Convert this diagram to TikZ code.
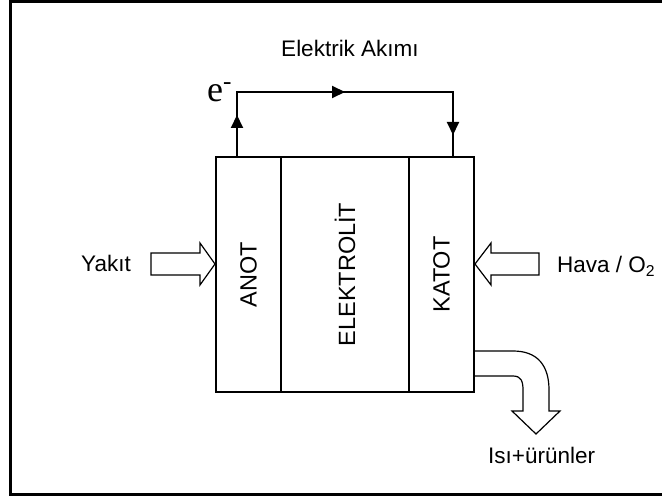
\documentclass[tikz,border=0pt]{standalone}
\usepackage{fontspec}
\setmainfont{Liberation Sans}
\newfontfamily\serifrm{Liberation Serif}
\usetikzlibrary{arrows.meta,decorations.markings}
\tikzset{cell/.style={draw,line width=2pt,minimum height=235pt,inner sep=0pt,
   font=\fontsize{23.5}{26}\selectfont},
 wire/.style={line width=2pt},
 fatarrow/.style={draw,line width=1.2pt,line join=miter},
 lbl/.style={font=\fontsize{22.5}{25}\selectfont,inner sep=0pt}}
\pgfkeys{/pgf/decoration/wiretip/.style={mark=at position #1 with {\arrow{Triangle[length=13pt,width=12pt]}}}}

\begin{document}
\begin{tikzpicture}[x=1pt,y=-1pt]
\useasboundingbox (0,0) rectangle (662,497);
\draw[line width=3pt] (10,2) rectangle (664,494);
% hucre
\node[cell,minimum width=65pt] (anot) at (248.5,274.5) {\rotatebox{90}{ANOT}};
\node[cell,minimum width=128pt] (elektrolit) at (345,274.5) {\rotatebox{90}{ELEKTROLİT}};
\node[cell,minimum width=65pt] (katot) at (441.5,274.5) {\rotatebox{90}{KATOT}};
% dis devre
\coordinate (eout) at (237,157);\coordinate (ein) at (453,157);\coordinate (top) at (345,92);
\draw[wire,postaction=decorate,decoration={markings,wiretip=42pt,wiretip=173pt,wiretip=324pt}]
 (eout) |- (top) -| (ein);
\node[anchor=base west,inner sep=0pt,font=\serifrm\fontsize{36}{40}\selectfont] (elec) at (207,102) {e\raisebox{3pt}{\textsuperscript{-}}};
\node[lbl,anchor=base] (akim) at (350,57) {Elektrik Akımı};
% giris/cikis oklari
\draw[fatarrow] (151,253) -- (200,253) -- (200,243) -- (anot.west |- 0,264) -- (200,285) -- (200,275) -- (151,275) -- cycle;
\draw[fatarrow] (539,253) -- (491,253) -- (491,243) -- (katot.east |- 0,264) -- (491,285) -- (491,275) -- (539,275) -- cycle;
\draw[fatarrow] (katot.east |- 0,351) -- (513,351) .. controls (538,351) and (549,366) .. (549,390)
 -- (549,411) -- (560,411) -- (536,434) -- (512,411) -- (523,411) -- (523,390)
 .. controls (523,381) and (521,376) .. (513,376) -- (katot.east |- 0,376);
\node[lbl,anchor=base east] (yakit) at (131,272) {Yakıt};
\node[lbl,anchor=base west] (hava) at (557,273) {Hava / O\textsubscript{2}};
\node[lbl,anchor=base west] (urun) at (488,463) {Isı+ürünler};
\end{tikzpicture}
\end{document}
